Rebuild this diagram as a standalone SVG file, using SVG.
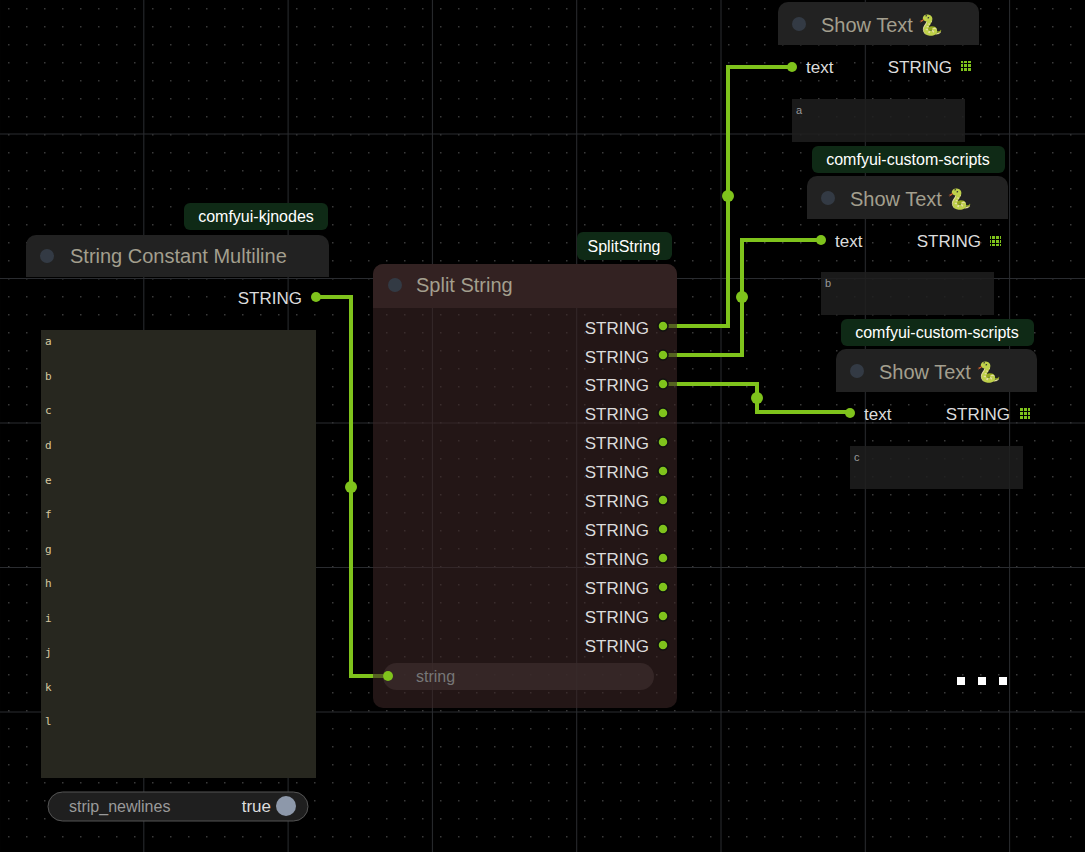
<svg xmlns="http://www.w3.org/2000/svg" width="1085" height="852" viewBox="0 0 1085 852">
<defs>
<pattern id="dots" x="0" y="0" width="18" height="18" patternUnits="userSpaceOnUse">
<rect x="8" y="8" width="1.5" height="1.5" fill="#3a3a3a"/>
</pattern>
<pattern id="grid" x="-1" y="-11" width="144.3" height="144.5" patternUnits="userSpaceOnUse">
<path d="M0 0V144.5M0 0H144.3" stroke="#2a2c30" stroke-width="2" fill="none"/>
</pattern>
<pattern id="gi" width="4" height="4" patternUnits="userSpaceOnUse"><rect width="3" height="3" fill="#7fc31c"/></pattern>
</defs>
<style>
.t{font-family:"Liberation Sans",Arial,sans-serif}
.title{font-size:20px;fill:#a39f8e}
.lbl{font-size:17px;fill:#dcdcdc}
.tag{font-size:16px;fill:#ffffff}
.w{stroke:#7fc31c;stroke-width:4;fill:none}
.dot{fill:#7fc31c}
.sm{font-family:"DejaVu Sans Mono",monospace;font-size:11px;fill:#d8c9a0}
</style>
<rect width="1085" height="852" fill="#000"/>
<rect width="1085" height="852" fill="url(#dots)"/>
<rect width="1085" height="852" fill="url(#grid)"/>

<g id="connectors">
<path class="w" d="M316 297H351V676H388"/>
<circle class="dot" cx="351" cy="487" r="6"/>
<path class="w" d="M663 326H728V67H792"/>
<circle class="dot" cx="728" cy="196" r="6"/>
<path class="w" d="M663 355H742V240H821"/>
<circle class="dot" cx="742" cy="297" r="6"/>
<path class="w" d="M663 384H757V412H850"/>
<circle class="dot" cx="757" cy="398" r="6"/>
</g>

<g id="string-constant">
<rect x="184" y="203" width="144" height="27" rx="6" fill="#0f2a16"/>
<text class="t tag" x="256" y="222" text-anchor="middle">comfyui-kjnodes</text>
<path d="M26 245a10 10 0 0 1 10-10h283a10 10 0 0 1 10 10v32H26z" fill="#222"/>
<circle cx="47" cy="256" r="7" fill="#333a44"/>
<text class="t title" x="70" y="263">String Constant Multiline</text>
<text class="t lbl" x="302" y="304" text-anchor="end">STRING</text>
<circle class="dot" cx="316" cy="297" r="5"/>
<rect x="41" y="330" width="275" height="448" fill="#27271f"/>
<g class="sm">
<text x="45" y="345">a</text><text x="45" y="380">b</text><text x="45" y="414">c</text><text x="45" y="449">d</text>
<text x="45" y="484">e</text><text x="45" y="518">f</text><text x="45" y="553">g</text><text x="45" y="587">h</text>
<text x="45" y="622">i</text><text x="45" y="656">j</text><text x="45" y="691">k</text><text x="45" y="725">l</text>
</g>
<rect x="48" y="792" width="260" height="29" rx="14.5" fill="#1f1f1f" stroke="#555"/>
<text class="t" x="69" y="812" font-size="16" fill="#9a9a9a">strip_newlines</text>
<text class="t lbl" x="271" y="812" text-anchor="end">true</text>
<circle cx="286" cy="806" r="10" fill="#8d98aa"/>
</g>

<g id="split-string">
<rect x="577" y="232" width="95" height="28" rx="6" fill="#0f2a16"/>
<text class="t tag" x="624" y="252" text-anchor="middle">SplitString</text>
<rect x="373" y="264" width="304" height="444" rx="10" fill="#3a2424" fill-opacity="0.6"/>
<path d="M373 274a10 10 0 0 1 10-10h284a10 10 0 0 1 10 10v34H373z" fill="#332222"/>
<circle cx="395" cy="285" r="7" fill="#333a44"/>
<text class="t title" x="416" y="292">Split String</text>
<g class="t lbl" text-anchor="end">
<text x="649" y="334">STRING</text><text x="649" y="363">STRING</text><text x="649" y="391">STRING</text><text x="649" y="420">STRING</text>
<text x="649" y="449">STRING</text><text x="649" y="478">STRING</text><text x="649" y="507">STRING</text><text x="649" y="536">STRING</text>
<text x="649" y="565">STRING</text><text x="649" y="594">STRING</text><text x="649" y="623">STRING</text><text x="649" y="652">STRING</text>
</g>
<g class="dot" stroke="#111" stroke-width="1.5">
<circle cx="663" cy="326" r="5"/><circle cx="663" cy="355" r="5"/><circle cx="663" cy="384" r="5"/><circle cx="663" cy="413" r="5"/>
<circle cx="663" cy="442" r="5"/><circle cx="663" cy="471" r="5"/><circle cx="663" cy="500" r="5"/><circle cx="663" cy="529" r="5"/>
<circle cx="663" cy="558" r="5"/><circle cx="663" cy="587" r="5"/><circle cx="663" cy="616" r="5"/><circle cx="663" cy="645" r="5"/>
</g>
<rect x="383" y="663" width="271" height="27" rx="13.5" fill="#3a2a2a" fill-opacity="0.8"/>
<circle class="dot" cx="388" cy="676" r="5"/>
<text class="t" x="416" y="682" font-size="16" fill="#777">string</text>
</g>

<g id="show-text-1">
<path d="M778 12a10 10 0 0 1 10-10h181a10 10 0 0 1 10 10v33H778z" fill="#222"/>
<circle cx="799" cy="24" r="7" fill="#333a44"/>
<text class="t title" x="821" y="32">Show Text 🐍</text>
<circle class="dot" cx="792" cy="67" r="5"/>
<text class="t lbl" x="806" y="73">text</text>
<text class="t lbl" x="952" y="73" text-anchor="end">STRING</text>
<rect x="961" y="61" width="11" height="11" fill="url(#gi)"/>
<rect x="792" y="99" width="173" height="43" fill="#1e1e1e" fill-opacity="0.85"/>
<text class="t" x="796" y="114" font-size="11" fill="#999">a</text>
</g>

<g id="show-text-2">
<rect x="812" y="146" width="193" height="27" rx="6" fill="#0f2a16"/>
<text class="t tag" x="908" y="165" text-anchor="middle">comfyui-custom-scripts</text>
<path d="M807 186a10 10 0 0 1 10-10h181a10 10 0 0 1 10 10v33H807z" fill="#222"/>
<circle cx="828" cy="198" r="7" fill="#333a44"/>
<text class="t title" x="850" y="206">Show Text 🐍</text>
<circle class="dot" cx="821" cy="240" r="5"/>
<text class="t lbl" x="835" y="247">text</text>
<text class="t lbl" x="981" y="247" text-anchor="end">STRING</text>
<rect x="990" y="235" width="11" height="11" fill="url(#gi)"/>
<rect x="821" y="272" width="173" height="43" fill="#1e1e1e" fill-opacity="0.85"/>
<text class="t" x="825" y="287" font-size="11" fill="#999">b</text>
</g>

<g id="show-text-3">
<rect x="841" y="319" width="193" height="27" rx="6" fill="#0f2a16"/>
<text class="t tag" x="937" y="338" text-anchor="middle">comfyui-custom-scripts</text>
<path d="M836 359a10 10 0 0 1 10-10h181a10 10 0 0 1 10 10v33H836z" fill="#222"/>
<circle cx="857" cy="371" r="7" fill="#333a44"/>
<text class="t title" x="879" y="379">Show Text 🐍</text>
<circle class="dot" cx="850" cy="413" r="5"/>
<text class="t lbl" x="864" y="420">text</text>
<text class="t lbl" x="1010" y="420" text-anchor="end">STRING</text>
<rect x="1019" y="408" width="11" height="11" fill="url(#gi)"/>
<rect x="850" y="446" width="173" height="43" fill="#1e1e1e" fill-opacity="0.85"/>
<text class="t" x="854" y="461" font-size="11" fill="#999">c</text>
</g>

<g id="ellipsis" fill="#fff">
<rect x="957" y="677" width="8" height="8"/><rect x="978" y="677" width="8" height="8"/><rect x="999" y="677" width="8" height="8"/>
</g>
</svg>
